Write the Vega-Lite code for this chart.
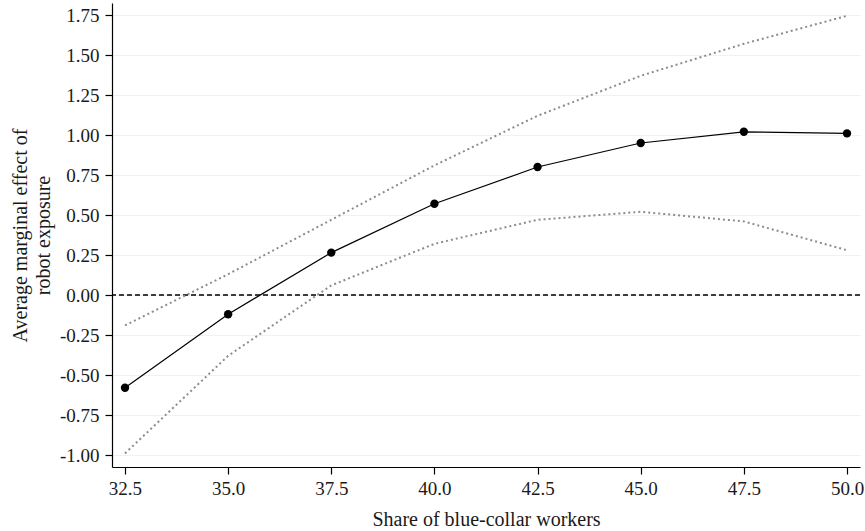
{
  "$schema": "https://vega.github.io/schema/vega-lite/v6.json",
  "width": 748,
  "height": 464,
  "autosize": {"type": "none"},
  "padding": {"left": 112, "top": 3, "right": 5, "bottom": 64},
  "background": "white",
  "config": {
    "view": {"stroke": null},
    "font": "Liberation Serif",
    "axis": {
      "labelFont": "Liberation Serif",
      "titleFont": "Liberation Serif",
      "labelColor": "#1a1a1a",
      "titleColor": "#1a1a1a",
      "titleFontWeight": "normal",
      "domainColor": "#000",
      "domainWidth": 1.2,
      "tickColor": "#000",
      "tickWidth": 1.2,
      "tickSize": 7,
      "gridColor": "#edf2f2",
      "gridWidth": 1
    }
  },
  "data": {
    "values": [
      {"x": 32.5, "ame": -0.58, "lo": -0.99, "hi": -0.19},
      {"x": 35.0, "ame": -0.12, "lo": -0.38, "hi": 0.13},
      {"x": 37.5, "ame": 0.265, "lo": 0.06, "hi": 0.47},
      {"x": 40.0, "ame": 0.57, "lo": 0.32, "hi": 0.81},
      {"x": 42.5, "ame": 0.80, "lo": 0.47, "hi": 1.12},
      {"x": 45.0, "ame": 0.95, "lo": 0.52, "hi": 1.37},
      {"x": 47.5, "ame": 1.02, "lo": 0.46, "hi": 1.57},
      {"x": 50.0, "ame": 1.01, "lo": 0.28, "hi": 1.745}
    ]
  },
  "encoding": {
    "x": {
      "field": "x", "type": "quantitative",
      "scale": {"domain": [32.185, 50.315], "nice": false, "zero": false},
      "axis": {
        "title": "Share of blue-collar workers",
        "values": [32.5, 35, 37.5, 40, 42.5, 45, 47.5, 50],
        "format": ".1f",
        "grid": false,
        "labelFontSize": 19,
        "titleFontSize": 20,
        "labelPadding": 5,
        "titlePadding": 11
      }
    }
  },
  "layer": [
    {
      "mark": {"type": "rule", "color": "#000", "strokeDash": [5, 3], "strokeWidth": 1.5},
      "data": {"values": [{"z": 0}]},
      "encoding": {
        "y": {"field": "z", "type": "quantitative"},
        "x": null
      }
    },
    {
      "mark": {"type": "line", "color": "#8c8c8c", "strokeDash": [2, 3], "strokeWidth": 2},
      "encoding": {
        "y": {"field": "hi", "type": "quantitative",
          "scale": {"domain": [-1.075, 1.825], "nice": false, "zero": false},
          "axis": {
            "title": ["Average marginal effect of", "robot exposure"],
            "values": [-1, -0.75, -0.5, -0.25, 0, 0.25, 0.5, 0.75, 1, 1.25, 1.5, 1.75],
            "labelExpr": "replace(format(datum.value, '.2f'), '\u2212', '-')",
            "grid": true,
            "labelFontSize": 19,
            "titleFontSize": 20,
            "titleLineHeight": 23,
            "labelPadding": 6,
            "titlePadding": 6
          }
        }
      }
    },
    {
      "mark": {"type": "line", "color": "#8c8c8c", "strokeDash": [2, 3], "strokeWidth": 2},
      "encoding": {"y": {"field": "lo", "type": "quantitative"}}
    },
    {
      "mark": {"type": "line", "color": "#000", "strokeWidth": 1.2},
      "encoding": {"y": {"field": "ame", "type": "quantitative"}}
    },
    {
      "mark": {"type": "point", "filled": true, "color": "#000", "size": 70, "opacity": 1},
      "encoding": {"y": {"field": "ame", "type": "quantitative"}}
    }
  ]
}
